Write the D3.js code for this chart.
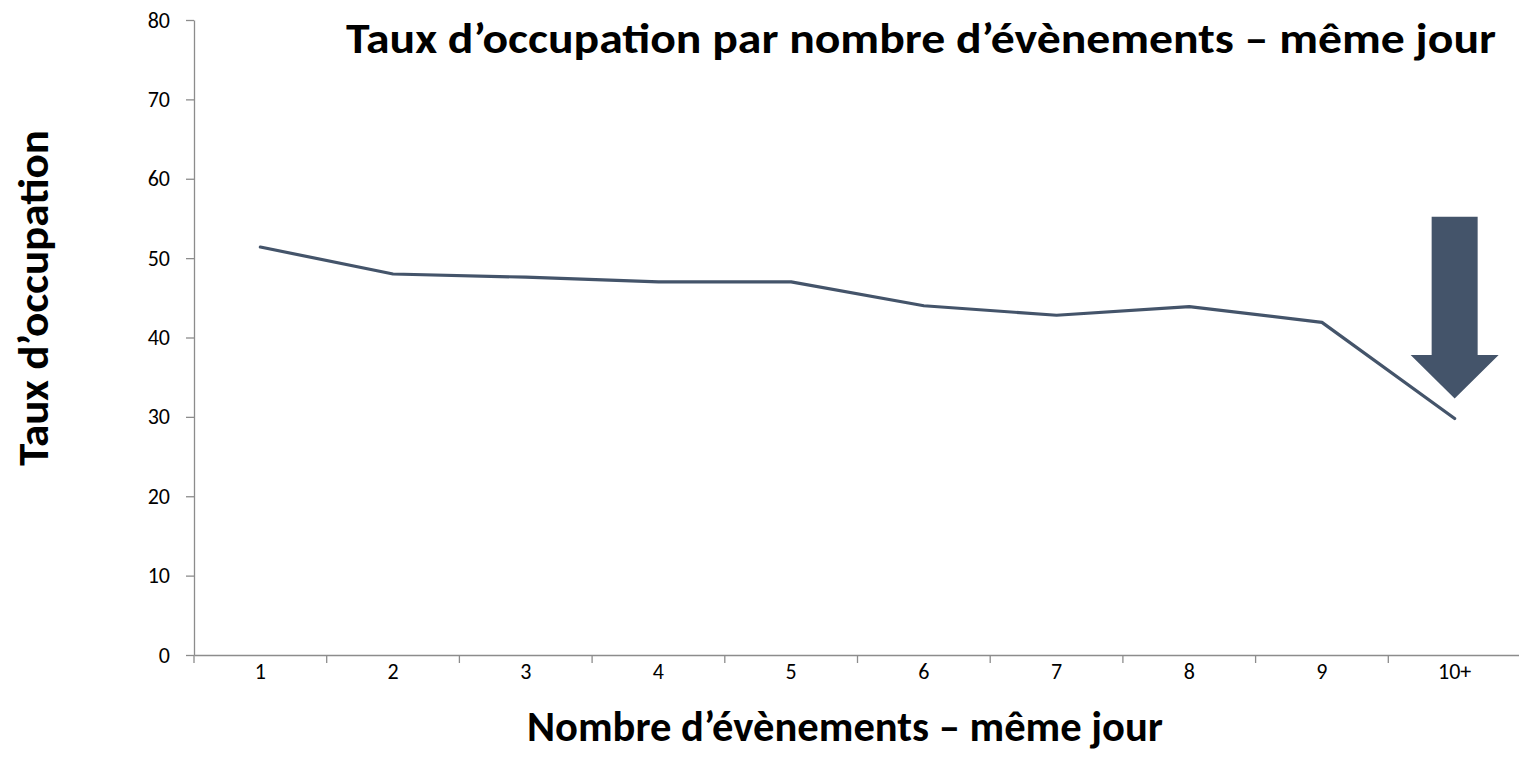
<!DOCTYPE html>
<html>
<head>
<meta charset="utf-8">
<script src="https://cdn.jsdelivr.net/npm/d3@7"></script>
<style>
  body { margin: 0; background: #fff; }
  text { font-family: Carlito, Calibri, Lato, "Open Sans", sans-serif; }
</style>
</head>
<body>
<div id="chart"></div>
<script>
// data
var categories = ["1", "2", "3", "4", "5", "6", "7", "8", "9", "10+"];
var occupancy = [51.4, 48.0, 47.6, 47.0, 47.0, 44.0, 42.8, 43.9, 41.9, 29.8];
var yTicks = [0, 10, 20, 30, 40, 50, 60, 70, 80];
// arrow annotation, in data units: top of shaft, base of head, tip
var arrowLevels = [55.2, 37.8, 32.3];

var chartTitle = "Taux d\u2019occupation par nombre d\u2019\u00e9v\u00e8nements \u2013 m\u00eame jour";
var xTitle = "Nombre d\u2019\u00e9v\u00e8nements \u2013 m\u00eame jour";
var yTitle = "Taux d\u2019occupation";

function main(){
    var W = 1519, H = 767;
    var left = 194, right = 1521, top = 20, bottom = 655;
    var lineColor = "#44546A";
    var axisColor = "#8c8c8c";
    var font = "Carlito, Calibri, Lato, 'Open Sans', sans-serif";

    var svg = d3.select("#chart").append("svg")
        .attr("width", W)
        .attr("height", H);

    var x = d3.scaleBand().domain(categories).range([left, right]).padding(0);
    var y = d3.scaleLinear().domain([0, 80]).range([bottom, top]);

    // y axis
    var yAxis = svg.append("g")
        .attr("transform", "translate(" + left + ",0)")
        .call(d3.axisLeft(y).tickValues(yTicks).tickSize(8).tickSizeOuter(0).tickPadding(16));
    yAxis.select(".domain").attr("stroke", axisColor).attr("stroke-width", 1.3);
    yAxis.selectAll(".tick line").attr("stroke", axisColor).attr("stroke-width", 1.3);
    yAxis.selectAll(".tick text")
        .style("font-size", "22px")
        .style("font-family", font)
        .attr("fill", "#000");

    // x axis, labels centred in bands, ticks on band edges
    var xAxis = svg.append("g")
        .attr("transform", "translate(0," + bottom + ")")
        .call(d3.axisBottom(x).tickSize(0).tickSizeOuter(0).tickPadding(8));
    xAxis.select(".domain").attr("stroke", axisColor).attr("stroke-width", 1.3);
    xAxis.selectAll(".tick text")
        .style("font-size", "22px")
        .style("font-family", font)
        .attr("fill", "#000");

    svg.append("g").selectAll("line")
        .data(categories)
        .enter().append("line")
        .attr("x1", function(d){ return x(d); })
        .attr("x2", function(d){ return x(d); })
        .attr("y1", bottom)
        .attr("y2", bottom + 8)
        .attr("stroke", axisColor)
        .attr("stroke-width", 1.3);

    // the line
    var line = d3.line()
        .x(function(d, i){ return x(categories[i]) + x.bandwidth() / 2; })
        .y(function(d){ return y(d); });

    svg.append("path")
        .datum(occupancy)
        .attr("d", line)
        .attr("fill", "none")
        .attr("stroke", lineColor)
        .attr("stroke-width", 3.2)
        .attr("stroke-linejoin", "round")
        .attr("stroke-linecap", "round");

    // down arrow above the last point
    var cx = x("10+") + x.bandwidth() / 2;
    var shaftHalf = 23, headHalf = 44;
    var pts = [
        [cx - shaftHalf, y(arrowLevels[0])],
        [cx + shaftHalf, y(arrowLevels[0])],
        [cx + shaftHalf, y(arrowLevels[1])],
        [cx + headHalf, y(arrowLevels[1])],
        [cx, y(arrowLevels[2])],
        [cx - headHalf, y(arrowLevels[1])],
        [cx - shaftHalf, y(arrowLevels[1])]
    ];
    svg.append("polygon")
        .attr("points", pts.map(function(p){ return p.join(","); }).join(" "))
        .attr("fill", lineColor);

    // titles
    svg.append("text")
        .attr("x", 346)
        .attr("y", 53)
        .style("font-size", "43px")
        .attr("font-weight", "bold")
        .attr("textLength", 1150)
        .attr("lengthAdjust", "spacingAndGlyphs")
        .text(chartTitle);

    svg.append("text")
        .attr("x", 527)
        .attr("y", 741)
        .style("font-size", "43px")
        .attr("font-weight", "bold")
        .attr("textLength", 636)
        .attr("lengthAdjust", "spacingAndGlyphs")
        .text(xTitle);

    svg.append("text")
        .attr("transform", "translate(48,298) rotate(-90)")
        .attr("text-anchor", "middle")
        .style("font-size", "43px")
        .attr("font-weight", "bold")
        .attr("textLength", 336)
        .attr("lengthAdjust", "spacingAndGlyphs")
        .text(yTitle);
}

main()
</script>
</body>
</html>
